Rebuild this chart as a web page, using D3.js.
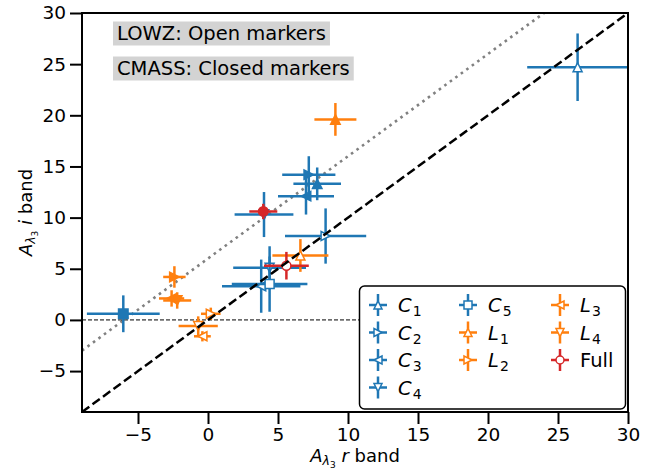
<!DOCTYPE html>
<html><head><meta charset="utf-8">
<script src="https://cdn.jsdelivr.net/npm/d3@7"></script>
<style>body{margin:0;background:#fff}svg{font-family:"DejaVu Sans",sans-serif}</style>
</head><body><svg id="c" width="670" height="470"></svg>
<script>
const names = ["C1","C2","C3","C4","C5","L1","L2","L3","L4","Full"];
const markerTypes = ["up","right","left","down","square","up","right","left","down","circle"];
const seriesColors = ["#1f77b4","#1f77b4","#1f77b4","#1f77b4","#1f77b4","#ff7f0e","#ff7f0e","#ff7f0e","#ff7f0e","#d62728"];

const lowzX    = [26.4, 8.4, 3.8, 4.4, 4.4, 6.6, 0.2, -0.4, -0.7, 5.6];
const lowzY    = [24.7, 8.2, 3.3, 5.1, 3.5, 6.3, 0.6, -1.6, -0.6, 5.3];
const lowzXerr = [3.6, 2.9, 2.8, 2.6, 2.7, 2.0, 0.7, 0.6, 1.4, 1.6];
const lowzYerr = [3.3, 2.7, 2.6, 2.1, 2.7, 1.6, 0.6, 0.5, 0.95, 1.35];

const cmassX    = [7.8, 7.2, 7.0, 4.0, -6.05, 9.1, -2.4, -2.6, -2.2, 3.95];
const cmassY    = [13.3, 14.2, 12.1, 10.3, 0.6, 19.6, 4.2, 2.1, 1.9, 10.6];
const cmassXerr = [1.7, 1.9, 2.0, 2.1, 2.6, 1.5, 0.8, 0.9, 1.0, 1.0];
const cmassYerr = [1.6, 1.8, 1.8, 2.2, 1.8, 1.6, 1.05, 0.8, 0.8, 0.75];

const xTicks = [-5,0,5,10,15,20,25,30];
const yTicks = [-5,0,5,10,15,20,25,30];
const xDomain = [-9,30], yDomain = [-9,30];

const L=82,R=628,T=13,B=412;
const svg = d3.select("#c");
const x = d3.scaleLinear(xDomain,[L,R]);
const y = d3.scaleLinear(yDomain,[B,T]);

svg.append("defs").append("clipPath").attr("id","clip")
  .append("rect").attr("x",L).attr("y",T).attr("width",R-L).attr("height",B-T);

const plot = svg.append("g").attr("clip-path","url(#clip)");

const line = d3.line().x(d=>x(d[0])).y(d=>y(d[1]));
plot.append("path").attr("d",line([[-9,-3],[30,36]])).attr("stroke","#808080")
  .attr("stroke-width",2.6).attr("stroke-dasharray","2.6,4.2").attr("fill","none");
plot.append("path").attr("d",line([[-9,0],[30,0]])).attr("stroke","#000")
  .attr("stroke-width",1).attr("stroke-dasharray","4,2").attr("fill","none");

function markerPath(t,s){
  const h=s/2;
  switch(t){
    case "up": return `M0,${-h}L${h},${h}L${-h},${h}Z`;
    case "down": return `M0,${h}L${h},${-h}L${-h},${-h}Z`;
    case "right": return `M${h},0L${-h},${-h}L${-h},${h}Z`;
    case "left": return `M${-h},0L${h},${-h}L${h},${h}Z`;
    case "square": return `M${-h},${-h}H${h}V${h}H${-h}Z`;
    case "circle": return d3.symbol(d3.symbolCircle, Math.PI*h*h)();
  }
}

function drawPoint(g, cx, cy, xe, ye, i, open){
  const c = seriesColors[i];
  g.append("line").attr("x1",x(cx-xe)).attr("x2",x(cx+xe)).attr("y1",y(cy)).attr("y2",y(cy))
    .attr("stroke",c).attr("stroke-width",2.5);
  g.append("line").attr("x1",x(cx)).attr("x2",x(cx)).attr("y1",y(cy-ye)).attr("y2",y(cy+ye))
    .attr("stroke",c).attr("stroke-width",2.5);
  g.append("path").attr("d",markerPath(markerTypes[i], open?9:9.5))
    .attr("transform",`translate(${x(cx)},${y(cy)})`)
    .attr("fill",open?"#fff":c).attr("stroke",c).attr("stroke-width",1.5);
}

const pts = plot.append("g");
names.forEach((n,i)=>{
  drawPoint(pts, lowzX[i], lowzY[i], lowzXerr[i], lowzYerr[i], i, true);
  drawPoint(pts, cmassX[i], cmassY[i], cmassXerr[i], cmassYerr[i], i, false);
});

plot.append("path").attr("d",line([[-9,-9],[30,30]])).attr("stroke","#000")
  .attr("stroke-width",2.5).attr("stroke-dasharray","9,4").attr("fill","none");

const fmt = d => d<0 ? "\u2212"+Math.abs(d) : String(d);
const xAxis = svg.append("g").attr("transform",`translate(0,${B})`)
  .call(d3.axisBottom(x).tickValues(xTicks).tickFormat(fmt).tickSizeInner(12).tickSizeOuter(0).tickPadding(4));
const yAxis = svg.append("g").attr("transform",`translate(${L},0)`)
  .call(d3.axisLeft(y).tickValues(yTicks).tickFormat(fmt).tickSizeInner(12).tickSizeOuter(0).tickPadding(4));
[xAxis,yAxis].forEach(a=>{
  a.select(".domain").remove();
  a.selectAll(".tick line").attr("stroke","#000").attr("stroke-width",2);
  a.selectAll(".tick text").attr("font-size",18.5).attr("font-family","DejaVu Sans").attr("fill","#000");
});
svg.append("rect").attr("x",L).attr("y",T).attr("width",R-L).attr("height",B-T)
  .attr("fill","none").attr("stroke","#000").attr("stroke-width",2);

function axisLabel(sel, letter, fs){
  sel.append("tspan").attr("font-style","italic").text("A");
  sel.append("tspan").attr("font-style","italic").attr("font-size",12.5).attr("dy",3).text("\u03bb");
  sel.append("tspan").attr("font-size",9).attr("dy",2.5).text("3");
  sel.append("tspan").attr("font-size",fs).attr("dy",-5.5).text(" ");
  sel.append("tspan").attr("font-style","italic").text(letter);
  sel.append("tspan").text(" band");
}
const xl = svg.append("text").attr("x",(L+R)/2).attr("y",462).attr("text-anchor","middle").attr("font-size",18);
axisLabel(xl,"r",18);
const yl = svg.append("text").attr("transform",`translate(32,${(T+B)/2}) rotate(-90)`).attr("text-anchor","middle").attr("font-size",18);
axisLabel(yl,"i",18);

function boxText(tx, ty, str){
  const g = svg.append("g");
  const r = g.append("rect").attr("fill","#d3d3d3");
  const t = g.append("text").attr("x",tx).attr("y",ty).attr("font-size",19.5).text(str);
  const b = t.node().getBBox();
  r.attr("x",b.x-4).attr("y",b.y-0.5).attr("width",b.width+8).attr("height",b.height+1);
}
boxText(117,40,"LOWZ: Open markers");
boxText(117,75,"CMASS: Closed markers");

const lg = svg.append("g");
lg.append("rect").attr("x",359.5).attr("y",286).attr("width",266).attr("height",123).attr("rx",5)
  .attr("fill","#fff").attr("stroke","#000").attr("stroke-width",1.5);
const colX = [378,468,560];
const rowY = [305,332.5,360,387.5];
const layout = [[0,0],[0,1],[0,2],[0,3],[1,0],[1,1],[1,2],[2,0],[2,1],[2,2]];
names.forEach((n,i)=>{
  const [c,r] = layout[i];
  const cx = colX[c], cy = rowY[r], col = seriesColors[i];
  lg.append("line").attr("x1",cx-9).attr("x2",cx+9).attr("y1",cy).attr("y2",cy).attr("stroke",col).attr("stroke-width",2.5);
  lg.append("line").attr("x1",cx).attr("x2",cx).attr("y1",cy-11).attr("y2",cy+11).attr("stroke",col).attr("stroke-width",2.5);
  lg.append("path").attr("d",markerPath(markerTypes[i],8)).attr("transform",`translate(${cx},${cy})`)
    .attr("fill","#fff").attr("stroke",col).attr("stroke-width",1.5);
  const t = lg.append("text").attr("x",cx+20).attr("y",cy+7).attr("font-size",19.5);
  if(n==="Full"){ t.text("Full"); }
  else {
    t.append("tspan").attr("font-style","italic").text(n[0]);
    t.append("tspan").attr("font-size",14).attr("dx",1).attr("dy",4).text(n.slice(1));
  }
});
</script></body></html>
